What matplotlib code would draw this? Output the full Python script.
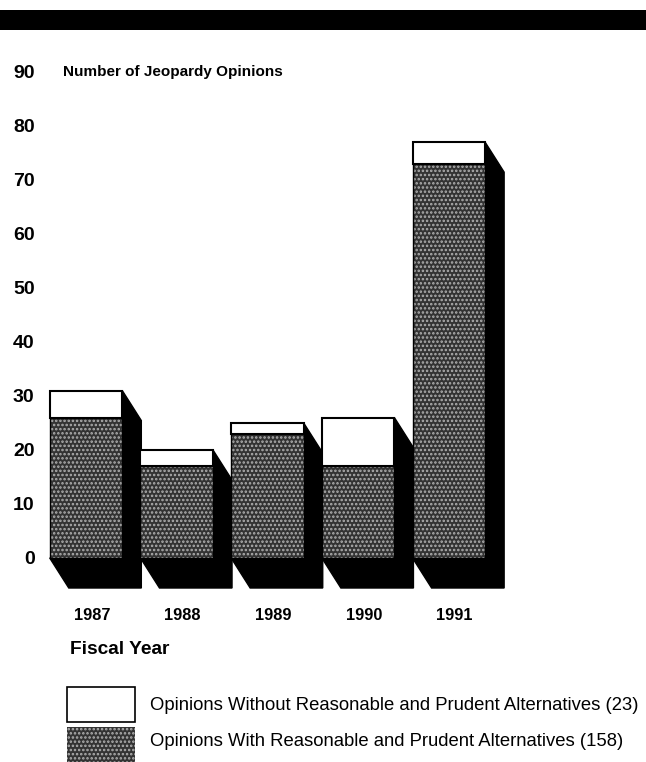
import numpy as np
import matplotlib.pyplot as plt
from matplotlib.patches import Polygon, Rectangle

plt.rcParams['font.family'] = ['Liberation Sans', 'DejaVu Sans']
plt.rcParams['hatch.linewidth'] = 1.2

years = ['1987', '1988', '1989', '1990', '1991']
with_alt = [26, 17, 23, 17, 73]      # gray part
without_alt = [5, 3, 2, 9, 4]        # white part on top
yticks = [0, 10, 20, 30, 40, 50, 60, 70, 80, 90]
lbl_without = 'Opinions Without Reasonable and Prudent Alternatives (23)'
lbl_with = 'Opinions With Reasonable and Prudent Alternatives (158)'

W, H = 646, 762
fig = plt.figure(figsize=(W / 100, H / 100), dpi=100)

# axes placed by pixels: left 45, right 646, top 60, bottom 600
ax = fig.add_axes([45 / W, (H - 600) / H, 601 / W, 540 / H])
ax.set_xlim(-0.452, 6.174)
ax.set_ylim(-7.78, 92.2)
for s in ax.spines.values():
    s.set_visible(False)

x = np.arange(len(years))
bw = 0.8
dx, dy = 0.21, 5.56   # shadow offset
dark = '#333333'
dots = '#b0b0b0'
tops = np.array(with_alt) + np.array(without_alt)

for xi, top in zip(x, tops):
    x0, x1 = xi - bw / 2, xi + bw / 2
    shadow = Polygon([(x0, 0), (x0 + dx, -dy), (x1 + dx, -dy), (x1 + dx, top - dy),
                      (x1, top), (x1, 0)], closed=True, facecolor='black',
                     edgecolor='black', clip_on=False, zorder=1)
    ax.add_patch(shadow)

# stippled part: dark face + light dot hatch overlay + black outline
ax.bar(x, with_alt, bw, color=dark, linewidth=0, zorder=2)
ax.bar(x, with_alt, bw, facecolor='none', edgecolor=dots, hatch='....',
       linewidth=0, zorder=3)
ax.bar(x, with_alt, bw, facecolor='none', edgecolor='black', linewidth=1.0, zorder=4)
ax.bar(x, without_alt, bw, bottom=with_alt, color='white', edgecolor='black',
       linewidth=1.5, zorder=4)

ax.set_yticks(yticks)
ax.set_yticklabels([str(v) for v in yticks], fontsize=14, fontweight='bold')
ax.tick_params(axis='y', length=0, pad=7.5)
ax.set_xticks(x + 0.065)
ax.set_xticklabels(years, fontsize=11.8, fontweight='bold')
ax.tick_params(axis='x', length=0, pad=6)

ax.text(-0.25, 90, 'Number of Jeopardy Opinions', fontsize=11, fontweight='bold',
        ha='left', va='center')

# top black band
fig.patches.append(Rectangle((0, 1 - 30 / H), 1, 20 / H, transform=fig.transFigure,
                             facecolor='black', edgecolor='none'))

fig.text(70 / W, 1 - 650 / H, 'Fiscal Year', fontsize=13.8, fontweight='bold',
         ha='left', va='center')

# legend boxes
fig.patches.append(Rectangle((67 / W, 1 - 722 / H), 68 / W, 35 / H,
                             transform=fig.transFigure, facecolor='white',
                             edgecolor='black', linewidth=1.2))
fig.patches.append(Rectangle((67 / W, 1 - 770 / H), 68 / W, 43 / H,
                             transform=fig.transFigure, facecolor=dark,
                             edgecolor='none'))
fig.patches.append(Rectangle((67 / W, 1 - 770 / H), 68 / W, 43 / H,
                             transform=fig.transFigure, facecolor='none',
                             edgecolor=dots, hatch='....', linewidth=0))
fig.text(150 / W, 1 - 705 / H, lbl_without, fontsize=13.3, ha='left', va='center')
fig.text(150 / W, 1 - 742 / H, lbl_with, fontsize=13.3, ha='left', va='center')

fig.savefig('out.png', dpi=100)
